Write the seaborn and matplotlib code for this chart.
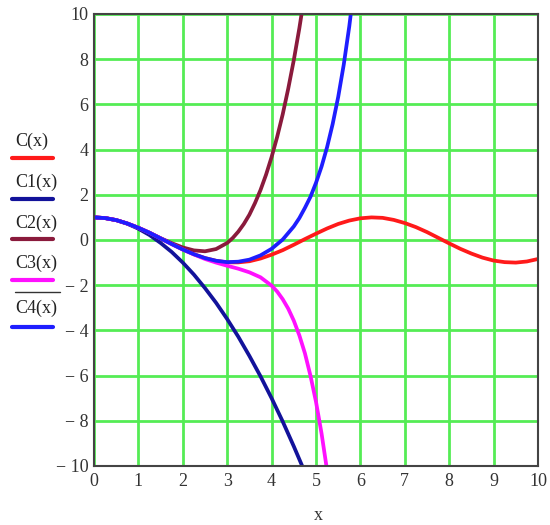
import matplotlib
matplotlib.use("Agg")
import matplotlib.pyplot as plt
import seaborn as sns
from matplotlib.lines import Line2D

# values
x_c = [0, 0.25, 0.5, 0.75, 1, 1.25, 1.5, 1.75, 2, 2.25, 2.5, 2.75, 3, 3.25, 3.5, 3.75,
       4, 4.25, 4.5, 4.75, 5, 5.25, 5.5, 5.75, 6, 6.25, 6.5, 6.75, 7, 7.25, 7.5, 7.75,
       8, 8.25, 8.5, 8.75, 9, 9.25, 9.5, 9.75, 10]
c_vals = [1, 0.97, 0.88, 0.73, 0.54, 0.32, 0.07, -0.18, -0.42, -0.63, -0.80, -0.92, -0.99,
          -0.99, -0.94, -0.82, -0.65, -0.45, -0.21, 0.04, 0.28, 0.51, 0.71, 0.86, 0.96, 1.00,
          0.98, 0.89, 0.75, 0.57, 0.35, 0.10, -0.15, -0.39, -0.60, -0.78, -0.91, -0.98, -1.00,
          -0.95, -0.84]

x_c1 = [0, 0.25, 0.5, 0.75, 1, 1.25, 1.5, 1.75, 2, 2.25, 2.5, 2.75, 3, 3.25, 3.5, 3.75,
        4, 4.25, 4.5, 4.75]
c1_vals = [1, 0.97, 0.88, 0.72, 0.5, 0.22, -0.13, -0.53, -1.0, -1.53, -2.13, -2.78, -3.5,
           -4.28, -5.13, -6.03, -7.0, -8.03, -9.13, -10.28]

x_c2 = [0, 0.25, 0.5, 0.75, 1, 1.25, 1.5, 1.75, 2, 2.25, 2.5, 2.75, 3, 3.125, 3.25, 3.375,
        3.5, 3.625, 3.75, 3.875, 4, 4.125, 4.25, 4.375, 4.5, 4.625, 4.75]
c2_vals = [1, 0.97, 0.88, 0.73, 0.54, 0.32, 0.08, -0.14, -0.33, -0.46, -0.50, -0.40, -0.13,
           0.09, 0.37, 0.71, 1.12, 1.63, 2.21, 2.89, 3.67, 4.56, 5.56, 6.70, 7.96, 9.37, 10.94]

x_c3 = [0, 0.25, 0.5, 0.75, 1, 1.25, 1.5, 1.75, 2, 2.25, 2.5, 2.75, 3, 3.25, 3.5, 3.75,
        4, 4.125, 4.25, 4.375, 4.5, 4.625, 4.75, 4.875, 5, 5.125, 5.25]
c3_vals = [1, 0.97, 0.88, 0.73, 0.54, 0.32, 0.07, -0.18, -0.42, -0.64, -0.84, -1.00, -1.14,
           -1.27, -1.43, -1.65, -2.02, -2.28, -2.62, -3.04, -3.57, -4.22, -5.01, -6.00, -7.16,
           -8.56, -10.20]

x_c4 = [0, 0.25, 0.5, 0.75, 1, 1.25, 1.5, 1.75, 2, 2.25, 2.5, 2.75, 3, 3.25, 3.5, 3.75,
        4, 4.25, 4.5, 4.625, 4.75, 4.875, 5, 5.125, 5.25, 5.375, 5.5, 5.625, 5.75, 5.875, 6]
c4_vals = [1, 0.97, 0.88, 0.73, 0.54, 0.32, 0.07, -0.18, -0.42, -0.63, -0.80, -0.92, -0.98,
           -0.96, -0.87, -0.68, -0.39, 0.02, 0.60, 0.97, 1.42, 1.91, 2.53, 3.25, 4.11, 5.13,
           6.33, 7.76, 9.46, 11.47, 13.86]

labels = ["C(x)", "C1(x)", "C2(x)", "C3(x)", "C4(x)"]
colors = ["#ff1a1a", "#12129a", "#8a1a3c", "#ff10ff", "#1e1eff"]

x_ticks = list(range(0, 11))
y_ticks = list(range(-10, 11, 2))

sns.set_style("white")
plt.rcParams['font.family'] = ['Liberation Serif', 'DejaVu Serif']

fig = plt.figure(figsize=(5.5, 5.25), dpi=100)
ax = fig.add_axes([94 / 550, 59 / 525, 444 / 550, 452 / 525])

series = [(x_c, c_vals), (x_c1, c1_vals), (x_c2, c2_vals), (x_c3, c3_vals), (x_c4, c4_vals)]
for (xs, ys), col in zip(series, colors):
    sns.lineplot(x=xs, y=ys, color=col, lw=2.7, ax=ax, zorder=3,
                 solid_joinstyle="round", solid_capstyle="round")

ax.set_xlim(0, 10)
ax.set_ylim(-10, 10)
ax.set_xticks(x_ticks)
ax.set_xticklabels([str(t) for t in x_ticks])
ax.set_yticks(y_ticks)
ax.set_yticklabels([("\u2212 " + str(-t)) if t < 0 else str(t) for t in y_ticks])
ax.tick_params(length=0, labelsize=13, colors="#333333")
ax.tick_params(axis="y", pad=4)
ax.tick_params(axis="x", pad=5)
ax.grid(True, color="#55ec55", lw=2)
ax.set_axisbelow(True)
for sp in ax.spines.values():
    sp.set_color("#444444")
    sp.set_linewidth(1.5)
    sp.set_zorder(4)
ax.set_xlabel("")
ax.set_ylabel("")

fig.text(318 / 550, 1 - 515 / 525, "x", ha="center", va="center", fontsize=13, color="#333333")

# legend-like labels on the left
text_y = [141, 182, 223, 263, 308]
line_y = [158, 199, 239, 280, 327]
for lab, col, ty, ly in zip(labels, colors, text_y, line_y):
    fig.text(15 / 550, 1 - ty / 525, lab, ha="left", va="center", fontsize=13, color="#222222")
    fig.add_artist(Line2D([12 / 550, 53 / 550], [1 - ly / 525, 1 - ly / 525],
                          color=col, lw=3, transform=fig.transFigure))
fig.add_artist(Line2D([15 / 550, 60 / 550], [1 - 292 / 525, 1 - 292 / 525],
                      color="#333333", lw=1, transform=fig.transFigure))

fig.savefig("out.png", dpi=100)
